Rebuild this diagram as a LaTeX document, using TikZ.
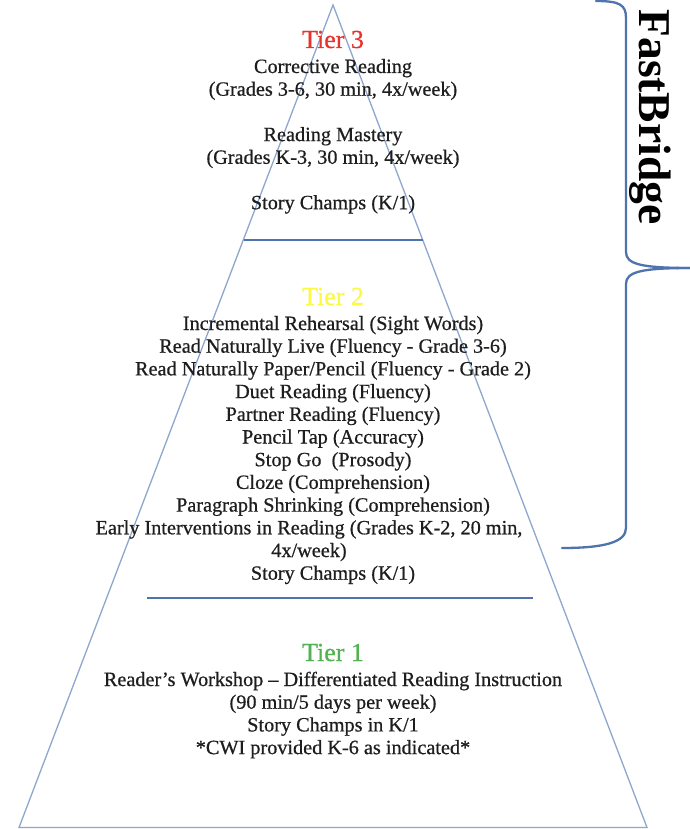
\documentclass[tikz,border=0pt]{standalone}
\usepackage{fontspec}
\setmainfont{Liberation Serif}
\newfontfamily\bodyfont{Liberation Serif}[FakeBold=0.6]
\definecolor{triline}{RGB}{143,166,206}
\definecolor{tierline}{RGB}{79,115,172}
\definecolor{txt}{RGB}{30,30,30}
\definecolor{tred}{RGB}{230,52,45}
\definecolor{tyellow}{RGB}{250,250,70}
\definecolor{tgreen}{RGB}{82,178,82}
\tikzset{
  ln/.style={anchor=base,inner sep=0pt,text=txt,font=\bodyfont\fontsize{20.25}{22.7}\selectfont},
  tierhead/.style={anchor=base,inner sep=0pt,font=\bodyfont\fontsize{26}{30}\selectfont},
  triedge/.style={draw=triline,line width=1.3pt,line join=miter},
  sepline/.style={draw=tierline,line width=2.6pt},
  bracepath/.style={draw=tierline,line width=2.3pt,line cap=round},
  fbtext/.style={anchor=base,inner sep=0pt,rotate=-90,text=black,font=\bfseries\fontsize{45.5}{50}\selectfont}
}
\begin{document}
\begin{tikzpicture}[x=1pt,y=-1pt]
\useasboundingbox (0,0) rectangle (689,829);
\fill[white] (0,0) rectangle (689,829);
% pyramid
\coordinate (apex) at (333,5);
\coordinate (bl) at (19,827.5);
\coordinate (br) at (647,827.5);
\draw[triedge] (apex) -- (bl) -- (br) -- cycle;
% separators
\coordinate (t3l) at (243.5,240);
\coordinate (t3r) at (422.5,240);
\draw[sepline] (t3l) -- (t3r);
\coordinate (t1l) at (147,598);
\coordinate (t1r) at (533,598);
\draw[sepline] (t1l) -- (t1r);
% brace
\coordinate (btop) at (596,1);
\coordinate (btip) at (692,268);
\coordinate (bbot) at (562,548);
\draw[bracepath] (btop) .. controls (620,1) and (626,5) .. (626,18)
  -- (626,252) .. controls (626,264) and (640,268) .. (btip);
\draw[bracepath] (btip) .. controls (640,268) and (626,272) .. (626,284)
  -- (626,528) .. controls (626,542) and (605,548) .. (bbot);
\node[fbtext] (fb) at (639,117) {FastBridge};
% Tier 3
\node[tierhead,text=tred] (h3) at (333,48) {Tier 3};
\node[ln] (a1) at (333,73) {Corrective Reading};
\node[ln] (a2) at (333,95.7) {(Grades 3-6, 30 min, 4x/week)};
\node[ln] (a3) at (333,141.1) {Reading Mastery};
\node[ln] (a4) at (333,163.8) {(Grades K-3, 30 min, 4x/week)};
\node[ln] (a5) at (333,209.2) {Story Champs (K/1)};
% Tier 2
\node[tierhead,text=tyellow] (h2) at (333,305) {Tier 2};
\node[ln] (b1) at (333,330) {Incremental Rehearsal (Sight Words)};
\node[ln] (b2) at (333,352.7) {Read Naturally Live (Fluency - Grade 3-6)};
\node[ln] (b3) at (333,375.4) {Read Naturally Paper/Pencil (Fluency - Grade 2)};
\node[ln] (b4) at (333,398.1) {Duet Reading (Fluency)};
\node[ln] (b5) at (333,420.8) {Partner Reading (Fluency)};
\node[ln] (b6) at (333,443.5) {Pencil Tap (Accuracy)};
\node[ln] (b7) at (333,466.2) {Stop Go\ \ (Prosody)};
\node[ln] (b8) at (333,488.9) {Cloze (Comprehension)};
\node[ln] (b9) at (333,511.6) {Paragraph Shrinking (Comprehension)};
\node[ln] (b10) at (309,534.3) {Early Interventions in Reading (Grades K-2, 20 min,};
\node[ln] (b11) at (309,557) {4x/week)};
\node[ln] (b12) at (333,579.7) {Story Champs (K/1)};
% Tier 1
\node[tierhead,text=tgreen] (h1) at (333,661) {Tier 1};
\node[ln] (c1) at (333,686) {Reader’s Workshop – Differentiated Reading Instruction};
\node[ln] (c2) at (333,708.7) {(90 min/5 days per week)};
\node[ln] (c3) at (333,731.4) {Story Champs in K/1};
\node[ln] (c4) at (333,754.1) {*CWI provided K-6 as indicated*};
\end{tikzpicture}
\end{document}
